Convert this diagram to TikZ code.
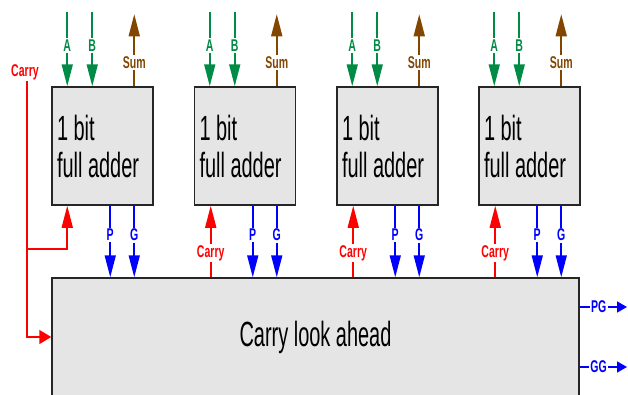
\documentclass[tikz,border=0pt]{standalone}
\usepackage{fontspec}
\setmainfont{Liberation Sans}
\newfontfamily\bigf[FakeStretch=0.57]{Liberation Sans}
\newfontfamily\smf[FakeStretch=0.62]{Liberation Sans}
\usetikzlibrary{arrows.meta,calc}
\definecolor{agreen}{RGB}{0,140,70}
\definecolor{sbrown}{RGB}{130,70,0}
\definecolor{boxfill}{RGB}{229,229,229}
\definecolor{sred}{RGB}{255,0,0}
\definecolor{sblue}{RGB}{0,0,255}
\begin{document}
\begin{tikzpicture}[x=1pt,y=-1pt,
  fa/.style={draw=black!85,line width=1.5pt,fill=boxfill,text width=91pt,inner xsep=5pt,inner ysep=0pt,minimum height=118pt,align=flush left,font=\bigf\fontsize{35}{37}\selectfont},
  cla/.style={draw=black!85,line width=1.5pt,fill=boxfill,minimum width=527pt,minimum height=118pt,font=\bigf\fontsize{35}{37}\selectfont,inner sep=0pt},
  lbl/.style={font=\smf\bfseries\fontsize{17}{18}\selectfont,fill=white,inner sep=1.5pt},
  sig/.style={line width=1.6pt,-{Triangle[length=22pt,width=11pt]}},
  sigs/.style={line width=1.6pt,-{Triangle[length=12pt,width=14pt]}},
  sigo/.style={line width=1.6pt,-{Triangle[length=10pt,width=11pt]}}
]
\clip (0,0) rectangle (628,394);
\fill[white] (0,0) rectangle (628,394);

% carry look ahead
\node[cla] (cla) at (315.5,337) {Carry look ahead};

% adders
\foreach \i/\cx in {1/102.5,2/245,3/387.5,4/529.5}{
  \node[fa] (fa\i) at (\cx,146) {1 bit\\full adder};
  % inputs A, B
  \draw[sig,agreen] ($(fa\i.north west)+(16,-74)$) -- node[lbl,text=agreen,pos=0.45]{A} ($(fa\i.north west)+(16,0)$);
  \draw[sig,agreen] ($(fa\i.north west)+(41,-74)$) -- node[lbl,text=agreen,pos=0.45]{B} ($(fa\i.north west)+(41,0)$);
  % Sum
  \draw[sig,sbrown] ($(fa\i.north west)+(83,0)$) -- node[lbl,text=sbrown,pos=0.33]{Sum} ($(fa\i.north west)+(83,-72)$);
  % P, G
  \coordinate (p\i) at ($(fa\i.south west)+(59,0)$);
  \coordinate (g\i) at ($(fa\i.south west)+(83,0)$);
  \draw[sig,sblue] (p\i) -- node[lbl,text=sblue,pos=0.41]{P} (p\i |- cla.north);
  \draw[sig,sblue] (g\i) -- node[lbl,text=sblue,pos=0.41]{G} (g\i |- cla.north);
}

% carries between stages
\foreach \i in {2,3,4}{
  \coordinate (c\i) at ($(fa\i.south west)+(17,0)$);
  \draw[sig,sred] (c\i |- cla.north) -- node[lbl,text=sred,pos=0.34]{Carry} (c\i);
}

% carry in
\node[lbl,text=sred,inner sep=1pt] (cin) at (25,72) {Carry};
\coordinate (cinx) at (27,0);
\coordinate (br) at (27,249);
\coordinate (c1) at ($(fa1.south west)+(16,0)$);
\draw[sigs,sred] (cin.south -| cinx) |- (cla.west);
\draw[sig,sred] (br) -| (c1);

% outputs
\coordinate (pgend) at (627,307);
\coordinate (ggend) at (627,367);
\draw[sigo,sblue] (cla.east |- pgend) -- node[lbl,text=sblue,pos=0.4]{PG} (pgend);
\draw[sigo,sblue] (cla.east |- ggend) -- node[lbl,text=sblue,pos=0.4]{GG} (ggend);
\end{tikzpicture}
\end{document}
